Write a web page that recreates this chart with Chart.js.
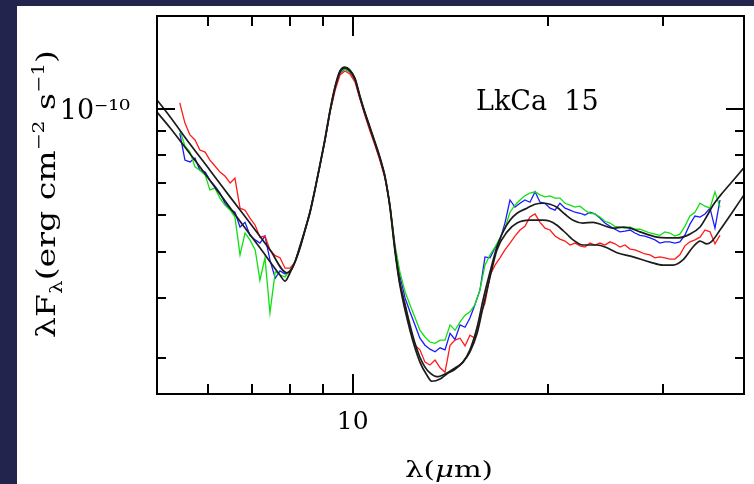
<!DOCTYPE html>
<html><head><meta charset="utf-8">
<script src="https://cdn.jsdelivr.net/npm/chart.js@4/dist/chart.umd.min.js"></script>
<style>html,body{margin:0;padding:0;background:#fff;}canvas{display:block;}</style>
</head><body>
<canvas id="c" width="754" height="484"></canvas>
<script>
// ---- data (wavelength in micron, flux in units of 1e-11 erg cm^-2 s^-1) ----
const FLUX_UNIT = 1e-11;
const lamObs = [5.42,5.52,5.62,5.72,5.82,5.93,6.03,6.14,6.25,6.36,
6.48,6.59,6.71,6.83,6.95,7.08,7.20,7.33,7.46,7.60,
7.73,7.87,8.01,8.15,8.30,8.45,8.60,8.75,8.91,9.07,
9.23,9.40,9.56,9.73,9.90,10.08,10.26,10.44,10.63,10.82,
11.01,11.21,11.41,11.62,11.82,12.04,12.25,12.47,12.69,12.92,
13.15,13.39,13.63,13.87,14.12,14.37,14.63,14.89,15.15,15.42,
15.70,15.98,16.27,16.56,16.85,17.15,17.46,17.77,18.09,18.41,
18.74,19.08,19.42,19.77,20.12,20.48,20.84,21.22,21.60,21.98,
22.37,22.77,23.18,23.59,24.01,24.44,24.88,25.32,25.78,26.24,
26.71,27.18,27.67,28.16,28.67,29.18,29.69,30.23,30.76,31.31,
31.87,32.44,33.03,33.62,34.23,34.84,35.46,36.09,36.74];
const fluxRed = [10.30,9.34,8.82,8.61,8.20,8.12,7.81,7.59,7.37,7.23,
6.99,7.16,6.19,6.13,5.90,5.70,5.38,5.41,5.06,4.92,
4.87,4.63,4.63,4.77,5.11,5.57,6.07,6.76,7.63,8.61,
9.85,10.96,11.79,12.02,11.85,11.40,10.50,9.71,8.99,8.40,
7.81,7.16,6.28,5.06,4.33,3.88,3.48,3.19,3.12,2.94,
2.90,2.97,2.86,2.80,3.19,3.27,3.30,3.18,3.35,3.30,
3.66,3.91,4.48,4.70,4.87,5.06,5.23,5.41,5.57,5.67,
5.93,6.02,5.78,5.62,5.57,5.41,5.33,5.28,5.18,5.23,
5.16,5.13,5.23,5.18,5.23,5.18,5.26,5.21,5.13,5.18,
5.08,5.06,5.01,4.96,4.94,4.87,4.89,4.87,4.84,4.84,
4.94,5.16,5.26,5.31,5.38,5.57,5.52,5.21,5.43];
const fluxGreen = [9.03,8.36,8.12,7.56,7.44,7.27,6.76,6.82,6.50,6.28,
6.13,5.93,4.94,5.49,5.31,5.06,4.37,4.87,3.73,4.55,
4.48,4.44,4.59,4.77,5.16,5.59,6.10,6.79,7.67,8.65,
9.90,11.12,11.96,12.14,11.96,11.57,10.60,9.81,9.12,8.48,
7.89,7.27,6.34,5.18,4.55,4.13,3.88,3.65,3.43,3.32,
3.24,3.22,3.27,3.27,3.52,3.43,3.57,3.69,3.75,3.88,
4.17,4.70,4.94,5.13,5.36,5.62,6.07,6.28,6.44,6.57,
6.66,6.70,6.60,6.54,6.57,6.50,6.50,6.34,6.28,6.22,
6.25,6.13,6.04,6.02,5.93,5.81,5.76,5.67,5.65,5.62,
5.65,5.59,5.59,5.54,5.49,5.46,5.43,5.52,5.49,5.41,
5.46,5.67,5.96,6.07,6.34,6.25,6.19,6.70,6.22];
const fluxBlue = [8.90,7.81,7.74,7.89,7.44,7.37,7.09,6.89,6.66,6.34,
6.16,6.07,5.65,5.78,5.43,5.31,5.23,5.41,4.82,4.41,
4.57,4.50,4.55,4.77,5.13,5.57,6.07,6.76,7.63,8.61,
9.85,11.07,11.90,12.14,11.96,11.51,10.55,9.76,9.08,8.44,
7.85,7.23,6.28,5.13,4.46,4.01,3.75,3.52,3.30,3.19,
3.13,3.09,3.15,3.12,3.38,3.28,3.52,3.48,3.64,3.88,
4.17,4.89,4.87,5.11,5.31,5.76,6.44,6.22,6.34,6.44,
6.37,6.70,6.37,6.34,6.19,6.13,6.34,6.19,6.13,6.07,
6.04,5.99,6.07,6.02,5.90,5.76,5.67,5.59,5.52,5.54,
5.57,5.49,5.43,5.41,5.36,5.31,5.23,5.26,5.26,5.23,
5.26,5.43,5.73,5.96,5.93,6.02,6.19,5.62,6.44];
const lamModelA = [5.00,5.24,5.46,5.82,6.25,6.71,7.20,7.73,7.87,8.01,8.15,8.30,8.45,8.60,8.75,8.91,9.07,9.23,9.40,9.56,9.73,9.90,10.08,10.26,10.44,10.63,10.82,11.01,11.21,11.41,11.62,11.82,12.04,12.25,12.47,12.69,12.92,13.15,13.48,13.97,14.37,14.78,15.15,15.54,15.87,16.27,16.67,17.03,17.46,17.90,18.54,19.08,19.63,20.12,20.62,21.22,21.83,22.61,23.43,24.28,25.15,26.06,26.71,27.67,29.39,30.45,31.55,33.03,34.23,35.08,35.84,36.74,38.05,40.0];
const fluxModelA = [9.85,9.12,8.48,7.56,6.63,5.81,5.11,4.48,4.35,4.53,4.77,5.16,5.59,6.10,6.79,7.67,8.69,9.95,11.18,12.02,12.25,12.08,11.62,10.65,9.85,9.17,8.53,7.93,7.23,6.25,5.06,4.31,3.88,3.52,3.22,3.01,2.87,2.79,2.74,2.79,2.86,2.94,3.12,3.48,3.97,4.55,5.13,5.52,5.84,6.04,6.19,6.31,6.34,6.31,6.22,6.01,5.84,5.76,5.78,5.70,5.62,5.65,5.62,5.52,5.38,5.36,5.36,5.46,5.65,5.96,6.28,6.57,6.95,7.53];
const lamModelB = [5.00,5.24,5.62,6.03,6.48,6.95,7.46,7.92,8.07,8.21,8.30,8.45,8.60,8.75,8.91,9.07,9.23,9.40,9.56,9.73,9.90,10.08,10.26,10.44,10.63,10.82,11.01,11.21,11.41,11.62,11.82,12.25,12.69,13.01,13.24,13.63,13.97,14.37,14.78,15.15,15.54,15.87,16.27,16.67,17.28,17.90,18.74,19.63,20.12,20.62,21.36,21.83,22.61,23.77,24.62,25.51,27.00,28.67,30.02,31.11,32.22,33.39,34.23,35.08,35.71,36.74,38.47,40.0];
const fluxModelB = [10.45,9.62,8.44,7.44,6.53,5.76,5.06,4.53,4.63,4.89,5.11,5.57,6.07,6.76,7.63,8.65,9.90,11.12,11.96,12.20,12.02,11.57,10.60,9.81,9.12,8.48,7.89,7.20,6.22,5.01,4.27,3.43,2.94,2.76,2.68,2.71,2.78,2.84,2.94,3.09,3.38,3.84,4.44,5.06,5.52,5.76,5.84,5.84,5.81,5.70,5.46,5.31,5.18,5.18,5.11,4.99,4.89,4.77,4.70,4.70,4.82,5.13,5.28,5.21,5.28,5.57,6.10,6.60];

const xTickValues = [6,7,8,9,10,20,30];
const xTickLabels = [null,null,null,null,'10',null,null];
const xMajorTicks = [10];
const yTickValues = [3e-11,4e-11,5e-11,6e-11,7e-11,8e-11,9e-11,1e-10];
const yTickLabels = [null,null,null,null,null,null,null,'10\u207B\u00B9\u2070'];
const yMajorTicks = [1e-10];
const objectLabel = 'LkCa  15';

// ---- drawing ----
const SERIF = '"DejaVu Serif", "Liberation Serif", serif';
const NAVY = '#22244e';
const pts = (lam, f) => lam.map((l, i) => ({x: l, y: f[i] * FLUX_UNIT}));

function richWidth(ctx, segs, base){
  let w = 0;
  for (const s of segs){ ctx.font = (s.italic?'italic ':'') + Math.round(base*(s.s||1)) + 'px ' + SERIF; w += ctx.measureText(s.t).width; }
  return w;
}
function drawRich(ctx, segs, base){
  let x = 0;
  for (const s of segs){
    ctx.font = (s.italic?'italic ':'') + Math.round(base*(s.s||1)) + 'px ' + SERIF;
    ctx.fillText(s.t, x, (s.dy||0)*base);
    x += ctx.measureText(s.t).width;
  }
}

const bgPlugin = {
  id: 'bg',
  beforeDraw(chart){
    const {ctx, width, height} = chart;
    ctx.save();
    ctx.fillStyle = '#fff'; ctx.fillRect(0,0,width,height);
    ctx.fillStyle = NAVY; ctx.fillRect(0,0,17,height); ctx.fillRect(0,0,width,6);
    ctx.restore();
  }
};
const framePlugin = {
  id: 'frame',
  afterDatasetsDraw(chart){
    const {ctx, chartArea: a, scales: {x, y}} = chart;
    ctx.save();
    ctx.strokeStyle = '#000'; ctx.lineWidth = 2;
    ctx.strokeRect(a.left, a.top, a.right - a.left, a.bottom - a.top);
    ctx.beginPath();
    for (const v of xTickValues){
      const p = Math.round(x.getPixelForValue(v));
      const L = xMajorTicks.includes(v) ? 20 : 10;
      ctx.moveTo(p, a.bottom); ctx.lineTo(p, a.bottom - L);
      ctx.moveTo(p, a.top); ctx.lineTo(p, a.top + L);
    }
    for (const v of yTickValues){
      const p = Math.round(y.getPixelForValue(v));
      const L = yMajorTicks.includes(v) ? 18 : 9;
      ctx.moveTo(a.left, p); ctx.lineTo(a.left + L, p);
      ctx.moveTo(a.right, p); ctx.lineTo(a.right - L, p);
    }
    ctx.stroke();
    ctx.restore();
  }
};
const textPlugin = {
  id: 'texts',
  afterDraw(chart){
    const {ctx} = chart;
    ctx.save();
    ctx.fillStyle = '#000';
    ctx.textBaseline = 'alphabetic';
    ctx.textAlign = 'left';
    ctx.font = '27px ' + SERIF;
    ctx.fillText(objectLabel, 476, 110);
    const xs = [{t:'\u03BB('},{t:'\u03BC', italic:true},{t:'m)'}];
    const xw = richWidth(ctx, xs, 22);
    ctx.save(); ctx.translate(405, 477); ctx.scale(88 / xw, 1); drawRich(ctx, xs, 22); ctx.restore();
    const ys = [{t:'\u03BBF'},{t:'\u03BB', s:0.65, dy:0.25},{t:'(erg cm'},{t:'\u22122', s:0.62, dy:-0.42},{t:' s'},{t:'\u22121', s:0.62, dy:-0.42},{t:')'}];
    const yw = richWidth(ctx, ys, 26);
    ctx.save(); ctx.translate(55, 338); ctx.rotate(-Math.PI/2); ctx.scale(288 / yw, 1); drawRich(ctx, ys, 26); ctx.restore();
    ctx.restore();
  }
};

new Chart(document.getElementById('c'), {
  type: 'line',
  data: { datasets: [
    {label:'Model (green/blue)', data: pts(lamModelA, fluxModelA), borderColor:'#1c1c1c', borderWidth:1.7, pointRadius:0, cubicInterpolationMode:'monotone'},
    {label:'Model (red)', data: pts(lamModelB, fluxModelB), borderColor:'#1c1c1c', borderWidth:1.7, pointRadius:0, cubicInterpolationMode:'monotone'},
    {label:'Red', data: pts(lamObs, fluxRed), borderColor:'#ff1a1a', borderWidth:1.3, pointRadius:0},
    {label:'Green', data: pts(lamObs, fluxGreen), borderColor:'#10e010', borderWidth:1.3, pointRadius:0},
    {label:'Blue', data: pts(lamObs, fluxBlue), borderColor:'#1a1aff', borderWidth:1.3, pointRadius:0}
  ]},
  options: {
    responsive: false, animation: false, devicePixelRatio: 1,
    layout: {padding: {top: 16, right: 10, left: 0, bottom: 0}},
    plugins: {legend: {display: false}, tooltip: {enabled: false}},
    elements: {line: {tension: 0}},
    scales: {
      x: {
        type: 'logarithmic', min: 5, max: 40, position: 'bottom',
        afterBuildTicks(s){ s.ticks = xTickValues.map(v => ({value: v})); },
        afterFit(s){ s.height = 90; s.paddingLeft = 0; s.paddingRight = 0; },
        grid: {display: false}, border: {display: false},
        ticks: {autoSkip: false, maxRotation: 0, minRotation: 0, padding: 5, color: '#000',
          font: {family: SERIF, size: 25},
          callback: (v) => { const i = xTickValues.indexOf(v); return i >= 0 ? xTickLabels[i] : null; }}
      },
      y: {
        type: 'logarithmic', min: 2.52e-11, max: 1.568e-10, position: 'left',
        afterBuildTicks(s){ s.ticks = yTickValues.map(v => ({value: v})); },
        afterFit(s){ s.width = 157; s.paddingTop = 0; s.paddingBottom = 0; },
        grid: {display: false}, border: {display: false},
        ticks: {autoSkip: false, padding: 19, labelOffset: 3, color: '#000',
          font: {family: SERIF, size: 27},
          callback: (v) => { const i = yTickValues.indexOf(v); return i >= 0 ? yTickLabels[i] : null; }}
      }
    }
  },
  plugins: [bgPlugin, framePlugin, textPlugin]
});
</script>
</body></html>
